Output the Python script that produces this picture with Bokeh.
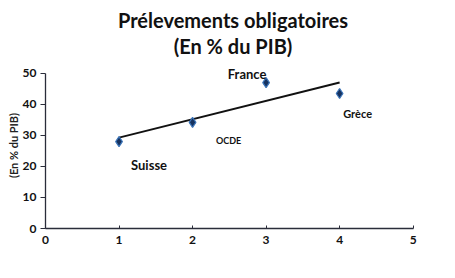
import numpy as np
from bokeh.plotting import figure
from bokeh.models import ColumnDataSource, Range1d, FixedTicker, Title
from bokeh.core.properties import value
from bokeh.embed import file_html
from bokeh.resources import INLINE

# ---- data ----
countries = ["Suisse", "OCDE", "France", "Grèce"]
x_vals = [1, 2, 3, 4]
y_vals = [28.0, 34.2, 47.0, 43.5]
x_ticks = [0, 1, 2, 3, 4, 5]
y_ticks = [0, 10, 20, 30, 40, 50]
title_lines = ["Prélevements obligatoires", "(En % du PIB)"]

# ---- label styling (screen offsets / sizes) ----
label_dx = [30, 36, -19, 18]
label_dy = [23, 18, -9, 20]
label_size = ["13px", "9px", "13px", "11px"]

FONT = "Lato"

p = figure(width=455, height=278, output_backend="svg", toolbar_location=None,
           x_range=Range1d(0, 5.1), y_range=Range1d(0, 53.5), title=None,
           min_border_left=45, min_border_right=35, min_border_top=62, min_border_bottom=50)
p.background_fill_color = "white"
p.border_fill_color = "white"
p.outline_line_color = None
p.grid.visible = False

title_standoff = [9, -8]
for i, line in enumerate(reversed(title_lines)):
    p.add_layout(Title(text=line, align="center", text_font=FONT, text_font_style="bold",
                       text_font_size="20px", text_color="#111111",
                       standoff=title_standoff[i], offset=0), "above")

# trend line (linear fit of the data)
slope, intercept = np.polyfit(x_vals, y_vals, 1)
tx = [min(x_vals), max(x_vals)]
ty = [slope * v + intercept for v in tx]
p.line(tx, ty, line_color="#111111", line_width=2)

src = ColumnDataSource(dict(x=x_vals, y=y_vals, name=countries,
                            dx=label_dx, dy=label_dy, fs=label_size))
p.scatter("x", "y", source=src, marker="diamond", size=10,
          fill_color="#16325f", line_color="#3b74b8", line_width=1.2)
p.text("x", "y", text="name", source=src, x_offset="dx", y_offset="dy",
       text_font_size="fs", text_font_style="bold", text_align="center",
       text_baseline="middle", text_color="#111111", text_font=value(FONT))

# axes
for ax in (p.xaxis[0], p.yaxis[0]):
    ax.axis_line_color = "#2a2d3a"
    ax.axis_line_width = 1.3
    ax.major_tick_line_color = "#2a2d3a"
    ax.minor_tick_line_color = None
    ax.major_label_text_font = FONT
    ax.major_label_text_font_style = "bold"
    ax.major_label_text_font_size = "12px"
    ax.major_label_text_color = "#111111"

p.xaxis.ticker = FixedTicker(ticks=x_ticks)
p.xaxis.bounds = (0, 5)
p.xaxis.major_tick_in = 3
p.xaxis.major_tick_out = 0
p.xaxis.major_label_standoff = 7

p.yaxis.ticker = FixedTicker(ticks=y_ticks)
p.yaxis.bounds = (0, 50)
p.yaxis.major_tick_in = 0
p.yaxis.major_tick_out = 5
p.yaxis.major_label_standoff = 4
p.yaxis.axis_label = "(En % du PIB)"
p.yaxis.axis_label_text_font = FONT
p.yaxis.axis_label_text_font_style = "bold"
p.yaxis.axis_label_text_font_size = "11px"
p.yaxis.axis_label_standoff = 0
p.yaxis.axis_label_text_color = "#222222"

open("out.html", "w").write(file_html(p, INLINE))
